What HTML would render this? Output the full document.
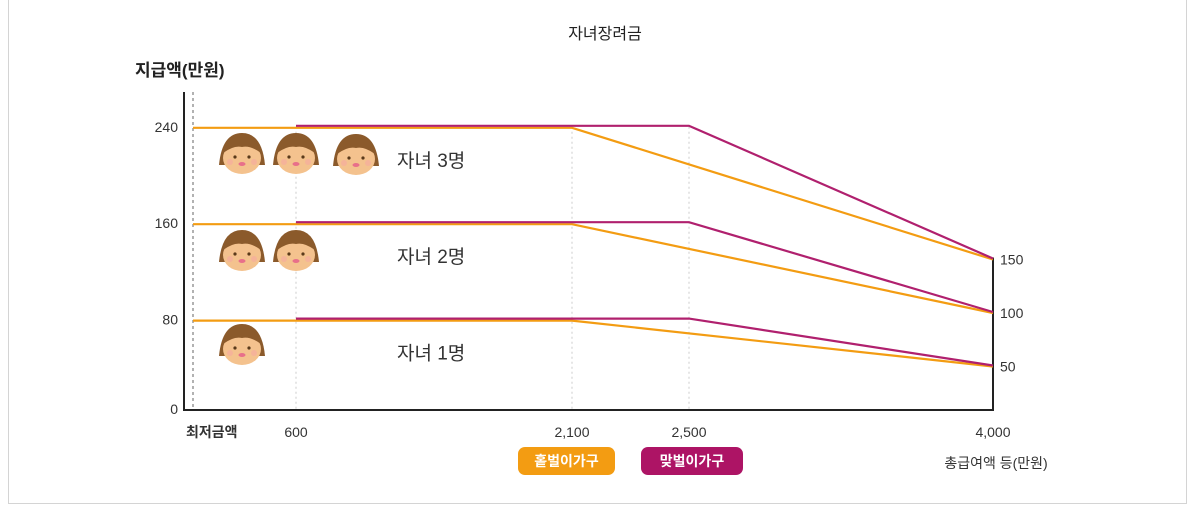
<!DOCTYPE html>
<html><head><meta charset="utf-8">
<style>
html,body{margin:0;padding:0;background:#fff;}
body{width:1198px;height:510px;overflow:hidden;position:relative;font-family:"Liberation Sans","Noto Sans CJK KR",sans-serif;}
#frame{position:absolute;left:8px;top:-2px;width:1179px;height:506px;border:1px solid #d4d4d4;box-sizing:border-box;}
svg{position:absolute;left:0;top:0;}
</style></head>
<body>
<div id="frame"></div>
<svg id="chart" width="1198" height="510"></svg>
<script>
const xBreaks = [0, 600, 2100, 2500, 4000];
const xTickLabels = ['최저금액', '600', '2,100', '2,500', '4,000'];
const yTicks = [0, 80, 160, 240];
const rightTicks = [50, 100, 150];
const childLabels = ['자녀 1명', '자녀 2명', '자녀 3명'];
const singleIncome = [0, 2100, 4000];
const dualIncome = [600, 2500, 4000];
const maxBenefit = [80, 160, 240];
const endBenefit = [50, 100, 150];

const NS = 'http://www.w3.org/2000/svg';
const svg = document.getElementById('chart');
const xRange = [193, 296, 572, 689, 993];
function xs(v){
  for (let i = 0; i < xBreaks.length - 1; i++) {
    if (v <= xBreaks[i+1]) {
      const t = (v - xBreaks[i]) / (xBreaks[i+1] - xBreaks[i]);
      return xRange[i] + t * (xRange[i+1] - xRange[i]);
    }
  }
  return xRange[xRange.length-1];
}
function ys(v){ return 416 - v * 1.205; }
function yr(v){ return 420 - v * 1.07; }
function mk(tag, attrs, parent){
  const e = document.createElementNS(NS, tag);
  for (const k in attrs) e.setAttribute(k, attrs[k]);
  (parent || svg).appendChild(e);
  return e;
}
function txt(s, x, y, attrs){
  const t = mk('text', Object.assign({x:x, y:y, 'font-family':'"Liberation Sans","Noto Sans CJK KR",sans-serif'}, attrs));
  t.textContent = s;
  return t;
}

// title
let t = txt('자녀장려금', 605, 39, {'font-size':16, 'text-anchor':'middle', fill:'#222'});


t = txt('지급액(만원)', 135, 76, {'font-size':17, 'font-weight':'bold', fill:'#222'});



// gridlines
const g0 = mk('line', {x1:193, y1:92, x2:193, y2:410, stroke:'#999', 'stroke-width':1.5, 'stroke-dasharray':'3,3'});


xBreaks.slice(1, 4).forEach(v => {
  const l = mk('line', {x1:xs(v), y1:ys(240), x2:xs(v), y2:410, stroke:'#ccc', 'stroke-width':1, 'stroke-dasharray':'2,3'});
  
  
});

// axes
const ya = mk('line', {x1:184, y1:92, x2:184, y2:411, stroke:'#222', 'stroke-width':2});


const xa = mk('line', {x1:183, y1:410, x2:994, y2:410, stroke:'#222', 'stroke-width':2});


const ra = mk('line', {x1:993, y1:yr(150)-2, x2:993, y2:411, stroke:'#222', 'stroke-width':2});



yTicks.forEach(v => {
  const y = v === 0 ? 414 : ys(v) + 5;
  const l = txt(String(v), 178, y, {'font-size':14, 'text-anchor':'end', fill:'#333'});
  
  
});
rightTicks.forEach(v => {
  const l = txt(String(v), 1000, yr(v) + 5, {'font-size':14, fill:'#333'});
  
  
});
xBreaks.forEach((v, i) => {
  const first = i === 0;
  const l = txt(xTickLabels[i], first ? 186 : xs(v), 437, {'font-size':14, 'text-anchor': first ? 'start' : 'middle', fill:'#333', 'font-weight': first ? 'bold' : 'normal'});
  
  
});
t = txt('총급여액 등(만원)', 996, 468, {'font-size':14, 'text-anchor':'middle', fill:'#333'});



// series
maxBenefit.forEach((m, i) => {
  const e = endBenefit[i];
  const po = [[xs(singleIncome[0]), ys(m)+1], [xs(singleIncome[1]), ys(m)+1], [xs(singleIncome[2]), yr(e)]];
  const lo = mk('polyline', {points: po.map(p => p.join(',')).join(' '), fill:'none', stroke:'#f39c12', 'stroke-width':2.2});
  
  
  const pp = [[xs(dualIncome[0]), ys(m)-1], [xs(dualIncome[1]), ys(m)-1], [xs(dualIncome[2]), yr(e)-1]];
  const lp = mk('polyline', {points: pp.map(p => p.join(',')).join(' '), fill:'none', stroke:'#b0206e', 'stroke-width':2.2});
  
  
  const cl = txt(childLabels[i], 397, ys(m) + 40, {'font-size':19, fill:'#333'});
  
  
});

// faces
function face(cx, cy, name){
  const g = mk('g', {});
  
  
  mk('path', {d:`M${cx-23},${cy+10} Q${cx-20},${cy-22} ${cx},${cy-22} Q${cx+20},${cy-22} ${cx+23},${cy+10} Z`, fill:'#8b5a2b'}, g);
  mk('ellipse', {cx:cx, cy:cy+3, rx:19, ry:16, fill:'#f4c28e'}, g);
  mk('path', {d:`M${cx-19},${cy-2} Q${cx-12},${cy-20} ${cx},${cy-17} Q${cx+12},${cy-20} ${cx+19},${cy-2} Q${cx+8},${cy-10} ${cx},${cy-8} Q${cx-8},${cy-10} ${cx-19},${cy-2} Z`, fill:'#8b5a2b'}, g);
  mk('circle', {cx:cx-7, cy:cy+2, r:1.6, fill:'#5a3a1a'}, g);
  mk('circle', {cx:cx+7, cy:cy+2, r:1.6, fill:'#5a3a1a'}, g);
  mk('ellipse', {cx:cx, cy:cy+9, rx:3.5, ry:2, fill:'#e8708a'}, g);
  mk('circle', {cx:cx-12, cy:cy+7, r:3, fill:'#f5a9a0', opacity:0.6}, g);
  mk('circle', {cx:cx+12, cy:cy+7, r:3, fill:'#f5a9a0', opacity:0.6}, g);
}
face(242, 155, 'child-face'); face(296, 155, 'child-face'); face(356, 156, 'child-face');
face(242, 252, 'child-face'); face(296, 252, 'child-face');
face(242, 346, 'child-face');

// legend
function legend(x, w, color, label, name){
  const g = mk('g', {});
  
  
  mk('rect', {x:x, y:447, width:w, height:28, rx:7, fill:color}, g);
  const tt = txt(label, x + w/2, 466, {'font-size':14, 'text-anchor':'middle', fill:'#fff', 'font-weight':'bold'});
  g.appendChild(tt);
}
legend(518, 97, '#f39c12', '홑벌이가구', 'legend-single-income');
legend(641, 102, '#ad1465', '맞벌이가구', 'legend-dual-income');
</script>
</body></html>
